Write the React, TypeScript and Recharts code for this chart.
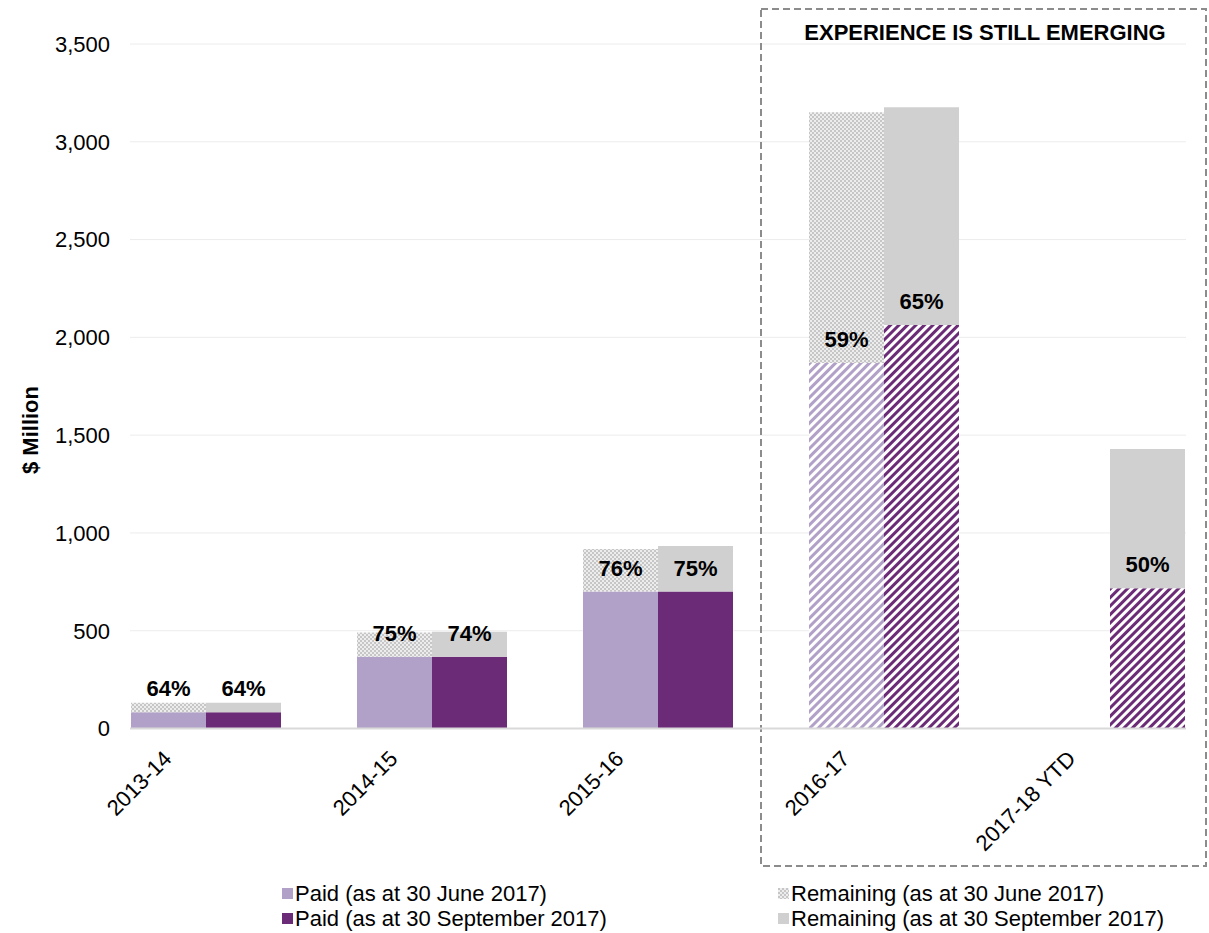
import React from "react";
import { BarChart, Bar, XAxis, YAxis, CartesianGrid, Cell, LabelList, Legend } from "recharts";

const categories = ["2013-14", "2014-15", "2015-16", "2016-17", "2017-18 YTD"];
const emergingCategories = ["2016-17", "2017-18 YTD"];
const paidJune = [83, 367, 700, 1869, null];
const remainingJune = [49, 124, 218, 1282, null];
const paidSept = [83, 367, 700, 2063, 717];
const remainingSept = [49, 128, 233, 1113, 712];
const pctJune = [64, 75, 76, 59, null];
const pctSept = [64, 74, 75, 65, 50];
const yTicks = [0, 500, 1000, 1500, 2000, 2500, 3000, 3500];

const seriesNames = [
  "Paid (as at 30 June 2017)",
  "Paid (as at 30 September 2017)",
  "Remaining (as at 30 June 2017)",
  "Remaining (as at 30 September 2017)",
];
const boxTitle = "EXPERIENCE IS STILL EMERGING";
const yTitle = "$ Million";

const data = categories.map((c, i) => ({
  category: c,
  paidJune: paidJune[i],
  remainingJune: remainingJune[i],
  paidSept: paidSept[i],
  remainingSept: remainingSept[i],
  pctJune: pctJune[i],
  pctSept: pctSept[i],
}));

const FONT = "'Liberation Sans', Arial, Helvetica, sans-serif";
const LIGHT = "#b1a0c7";
const DARK = "#6b2b76";
const GREY = "#d0d0d0";

const XTick = (props: any) => {
  const { x, y, payload } = props;
  const ax = x - 33;
  const ay = y + 31.5;
  return (
    <text
      x={ax}
      y={ay}
      textAnchor="end"
      transform={`rotate(-45 ${ax} ${ay})`}
      fontSize={22}
      fontFamily={FONT}
      fill="#000"
    >
      {payload.value}
    </text>
  );
};

const PctLabel = (props: any) => {
  const { value } = props;
  if (value === null || value === undefined) return null;
  const vb = props.viewBox || props;
  const cx = vb.x + vb.width / 2;
  const top = vb.y;
  return (
    <text
      x={cx}
      y={top - 16}
      textAnchor="middle"
      fontSize={22}
      fontWeight="bold"
      fontFamily={FONT}
      fill="#000"
    >
      {`${value}%`}
    </text>
  );
};

const Swatch = ({ fill }: { fill: string }) => (
  <svg width={11} height={11} style={{ marginRight: 2, verticalAlign: "middle" }}>
    <rect width={11} height={11} fill={fill} />
  </svg>
);

const LegendContent = () => {
  const items = [
    { name: seriesNames[0], fill: LIGHT, left: 282, top: 0 },
    { name: seriesNames[1], fill: DARK, left: 282, top: 25 },
    { name: seriesNames[2], fill: "url(#checker)", left: 778, top: 0 },
    { name: seriesNames[3], fill: GREY, left: 778, top: 25 },
  ];
  return (
    <div style={{ position: "relative", width: 1209, height: 52, fontFamily: FONT, fontSize: 22, color: "#000" }}>
      {items.map((it) => (
        <div
          key={it.name}
          style={{
            position: "absolute",
            left: it.left,
            top: it.top,
            height: 25,
            lineHeight: "25px",
            whiteSpace: "nowrap",
            display: "flex",
            alignItems: "center",
          }}
        >
          <Swatch fill={it.fill} />
          <span>{it.name}</span>
        </div>
      ))}
    </div>
  );
};

const isEmerging = (c: string) => emergingCategories.includes(c);

export default function App() {
  return (
    <div style={{ position: "absolute", left: 0, top: 0, width: 1209, height: 933, background: "#fff" }}>
      <BarChart
        width={1209}
        height={933}
        data={data}
        margin={{ top: 44, right: 23, left: 0, bottom: 104.5 }}
        barCategoryGap={38}
        barGap={0}
      >
        <defs>
          <pattern id="checker" width="4" height="4" patternUnits="userSpaceOnUse">
            <rect width="4" height="4" fill="#ededed" />
            <rect width="2" height="2" fill="#c6c6c6" />
            <rect x="2" y="2" width="2" height="2" fill="#c6c6c6" />
          </pattern>
          <pattern id="stripeLight" width="6" height="6" patternUnits="userSpaceOnUse" patternTransform="rotate(45)">
            <rect width="6" height="6" fill="#fff" />
            <rect width="3" height="6" fill={LIGHT} />
          </pattern>
          <pattern id="stripeDark" width="6" height="6" patternUnits="userSpaceOnUse" patternTransform="rotate(45)">
            <rect width="6" height="6" fill="#fff" />
            <rect width="3" height="6" fill={DARK} />
          </pattern>
        </defs>
        <CartesianGrid vertical={false} stroke="#ececec" strokeWidth={1} />
        <XAxis
          dataKey="category"
          padding={{ left: -37, right: -37 }}
          axisLine={{ stroke: "#d9d9d9", strokeWidth: 2 }}
          tickLine={false}
          tickSize={0}
          tickMargin={0}
          height={100}
          interval={0}
          tick={<XTick />}
        />
        <YAxis
          domain={[0, 3500]}
          ticks={yTicks}
          width={130}
          axisLine={false}
          tickLine={false}
          tickSize={0}
          tickMargin={20}
          tick={{ fill: "#000", fontSize: 22, fontFamily: FONT }}
          tickFormatter={(v: number) => v.toLocaleString("en-US")}
        />
        <Bar dataKey="paidJune" stackId="june" name={seriesNames[0]} fill={LIGHT} isAnimationActive={false}>
          {data.map((d) => (
            <Cell key={d.category} fill={isEmerging(d.category) ? "url(#stripeLight)" : LIGHT} />
          ))}
          <LabelList dataKey="pctJune" content={<PctLabel />} />
        </Bar>
        <Bar dataKey="remainingJune" stackId="june" name={seriesNames[2]} fill="url(#checker)" isAnimationActive={false} />
        <Bar dataKey="paidSept" stackId="sept" name={seriesNames[1]} fill={DARK} isAnimationActive={false}>
          {data.map((d) => (
            <Cell key={d.category} fill={isEmerging(d.category) ? "url(#stripeDark)" : DARK} />
          ))}
          <LabelList dataKey="pctSept" content={<PctLabel />} />
        </Bar>
        <Bar dataKey="remainingSept" stackId="sept" name={seriesNames[3]} fill={GREY} isAnimationActive={false} />
        <Legend
          layout="horizontal"
          verticalAlign="middle"
          align="center"
          content={<LegendContent />}
          wrapperStyle={{ top: 880.5, left: 0, width: 1209, height: 52 }}
        />
        <rect x={761} y={9} width={445} height={857} fill="none" stroke="#8c8c8c" strokeWidth={2} strokeDasharray="7 4" />
        <text x={985} y={40} textAnchor="middle" fontSize={22} fontWeight="bold" fontFamily={FONT} fill="#000">
          {boxTitle}
        </text>
        <text
          x={30}
          y={430}
          textAnchor="middle"
          dominantBaseline="central"
          transform="rotate(-90 30 430)"
          fontSize={22}
          fontWeight="bold"
          fontFamily={FONT}
          fill="#000"
        >
          {yTitle}
        </text>
      </BarChart>
    </div>
  );
}
